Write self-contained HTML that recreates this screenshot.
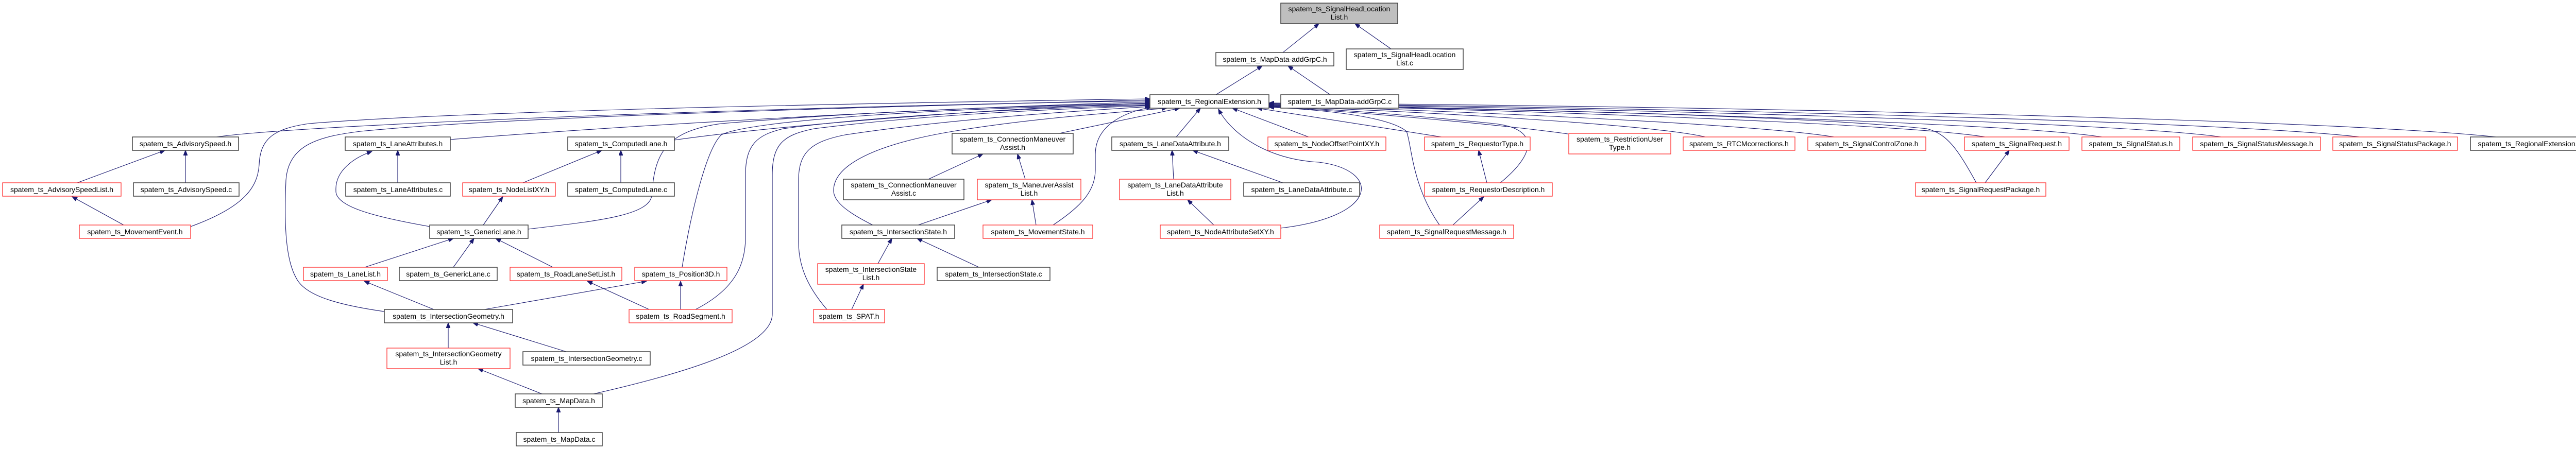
<!DOCTYPE html>
<html><head><meta charset="utf-8"><style>
html,body{margin:0;padding:0;background:#fff;}
svg{display:block;}
text{font-family:"Liberation Sans",sans-serif;font-size:14px;fill:#000;text-anchor:middle;}
.k{fill:#fff;stroke:#404040;stroke-width:1.5;}
.r{fill:#fff;stroke:#ff3030;stroke-width:1.3;}
.g{fill:#bfbfbf;stroke:#404040;stroke-width:1.5;}
path{fill:none;stroke:#191970;stroke-width:1.1;}
</style></head><body>
<svg width="5029" height="872" viewBox="0 0 5029 872" xmlns="http://www.w3.org/2000/svg">
<defs><marker id="a" markerWidth="11" markerHeight="8" refX="10" refY="4" orient="auto" markerUnits="userSpaceOnUse"><path d="M0,0 L10,4 L0,8 Z" style="fill:#191970;stroke:#191970;stroke-width:1"/></marker></defs>
<g marker-end="url(#a)">
<path d="M2490,102 L2560,46"/>
<path d="M2700,95 L2630,46"/>
<path d="M2360,184 L2450,128"/>
<path d="M2582,184 L2500,128"/>
<path d="M150,355 L320,292"/>
<path d="M360,355 L360,292"/>
<path d="M240,437 L140,382"/>
<path d="M772,355 L772,292"/>
<path d="M834,440 C720,420 650,400 652,370 C650,330 690,305 722,294"/>
<path d="M1015,355 L1168,292"/>
<path d="M1205,355 L1205,292"/>
<path d="M938,437 L976,382"/>
<path d="M708,519 L880,463"/>
<path d="M880,519 L920,463"/>
<path d="M1073,519 L962,463"/>
<path d="M842,601 L707,546"/>
<path d="M940,601 L1255,546"/>
<path d="M1260,601 L1140,546"/>
<path d="M1321,601 L1321,546"/>
<path d="M870,676 L870,627"/>
<path d="M1099,683 L918,627"/>
<path d="M1052,765 L928,716"/>
<path d="M1084,840 L1084,791"/>
<path d="M1802,348 L1908,299"/>
<path d="M1990,348 L1975,299"/>
<path d="M1782,437 L1925,388"/>
<path d="M2011,437 L2003,388"/>
<path d="M1704,512 L1731,463"/>
<path d="M1900,519 L1780,463"/>
<path d="M1653,601 L1676,552"/>
<path d="M2278,348 L2275,292"/>
<path d="M2490,355 L2315,292"/>
<path d="M2356,437 L2305,388"/>
<path d="M2886,355 L2870,292"/>
<path d="M2820,437 L2880,382"/>
<path d="M3853,355 L3900,292"/>
<path d="M2056,259 L2290,210"/>
<path d="M2283,266 L2330,210"/>
<path d="M2540,266 L2392,210"/>
<path d="M2798,266 L2440,210"/>
<path d="M3043,260 C2900,240 2600,215 2463,207"/>
<path d="M3310,266 C3200,240 2700,214 2463,206"/>
<path d="M3560,266 C3400,240 2800,214 2463,205"/>
<path d="M3853,266 C3700,240 2900,212 2463,204"/>
<path d="M4080,266 C3900,238 3000,212 2463,203"/>
<path d="M4311,266 C4100,236 3100,210 2463,202"/>
<path d="M4580,266 C4300,234 3200,209 2463,201"/>
<path d="M4845,266 C4500,230 3300,206 2463,200"/>
<path d="M420,266 C600,240 1600,205 2232,196"/>
<path d="M874,271 C1200,245 1800,210 2232,198"/>
<path d="M1309,272 C1500,245 1900,212 2232,200"/>
<path d="M370,440 C480,400 500,360 503,320 C505,270 530,250 600,240 C900,215 1700,200 2232,192"/>
<path d="M746,605 C640,590 590,570 575,540 C552,500 552,420 555,350 C560,280 620,265 700,255 C1000,225 1800,205 2232,194"/>
<path d="M1025,445 C1150,430 1260,420 1265,380 C1270,300 1290,255 1400,240 C1700,215 2000,205 2232,201"/>
<path d="M1324,519 C1340,420 1370,290 1400,262 C1450,235 1800,210 2232,203"/>
<path d="M1350,601 C1430,560 1447,510 1447,460 L1447,340 C1447,280 1470,262 1520,250 C1700,225 2000,210 2232,204"/>
<path d="M1152,765 C1350,720 1499,670 1499,610 L1499,340 C1499,280 1520,262 1580,250 C1800,222 2050,212 2232,205"/>
<path d="M1605,601 C1570,560 1550,520 1550,470 L1550,350 C1550,295 1575,275 1640,262 C1850,230 2100,215 2232,207"/>
<path d="M1694,437 C1640,410 1618,390 1618,370 C1618,320 1700,280 1850,255 C2000,230 2150,220 2265,210"/>
<path d="M2044,437 C2100,400 2126,370 2126,330 L2126,300 C2126,250 2170,220 2235,208"/>
<path d="M2486,443 C2680,420 2680,330 2560,315 C2460,310 2390,260 2365,212"/>
<path d="M2912,355 C2980,300 2990,250 2900,240 C2750,225 2600,212 2463,207"/>
<path d="M2794,437 C2740,360 2740,280 2730,255 C2700,230 2600,215 2463,208"/>
<path d="M3836,355 C3800,290 3780,260 3740,250 C3500,225 2900,210 2463,206"/>
</g>
<rect class="g" x="2486" y="6" width="227" height="40"/><text x="2599.5" y="22">spatem_ts_SignalHeadLocation</text><text x="2599.5" y="38">List.h</text>
<rect class="k" x="2360" y="102" width="229" height="26"/><text x="2474.5" y="120">spatem_ts_MapData-addGrpC.h</text>
<rect class="k" x="2613" y="95" width="227" height="40"/><text x="2726.5" y="111">spatem_ts_SignalHeadLocation</text><text x="2726.5" y="127">List.c</text>
<rect class="k" x="2232" y="184" width="231" height="26"/><text x="2347.5" y="202">spatem_ts_RegionalExtension.h</text>
<rect class="k" x="2486" y="184" width="229" height="26"/><text x="2600.5" y="202">spatem_ts_MapData-addGrpC.c</text>
<rect class="k" x="257" y="266" width="206" height="26"/><text x="360" y="284">spatem_ts_AdvisorySpeed.h</text>
<rect class="k" x="670" y="266" width="204" height="26"/><text x="772" y="284">spatem_ts_LaneAttributes.h</text>
<rect class="k" x="1102" y="266" width="207" height="26"/><text x="1205.5" y="284">spatem_ts_ComputedLane.h</text>
<rect class="k" x="1848" y="259" width="235" height="40"/><text x="1965.5" y="275">spatem_ts_ConnectionManeuver</text><text x="1965.5" y="291">Assist.h</text>
<rect class="k" x="2158" y="266" width="227" height="26"/><text x="2271.5" y="284">spatem_ts_LaneDataAttribute.h</text>
<rect class="r" x="2461" y="266" width="229" height="26"/><text x="2575.5" y="284">spatem_ts_NodeOffsetPointXY.h</text>
<rect class="r" x="2765" y="266" width="205" height="26"/><text x="2867.5" y="284">spatem_ts_RequestorType.h</text>
<rect class="r" x="3045" y="259" width="198" height="40"/><text x="3144" y="275">spatem_ts_RestrictionUser</text><text x="3144" y="291">Type.h</text>
<rect class="r" x="3267" y="266" width="217" height="26"/><text x="3375.5" y="284">spatem_ts_RTCMcorrections.h</text>
<rect class="r" x="3509" y="266" width="229" height="26"/><text x="3623.5" y="284">spatem_ts_SignalControlZone.h</text>
<rect class="r" x="3813" y="266" width="203" height="26"/><text x="3914.5" y="284">spatem_ts_SignalRequest.h</text>
<rect class="r" x="4041" y="266" width="190" height="26"/><text x="4136" y="284">spatem_ts_SignalStatus.h</text>
<rect class="r" x="4256" y="266" width="248" height="26"/><text x="4380" y="284">spatem_ts_SignalStatusMessage.h</text>
<rect class="r" x="4528" y="266" width="242" height="26"/><text x="4649" y="284">spatem_ts_SignalStatusPackage.h</text>
<rect class="k" x="4795" y="266" width="229" height="26"/><text x="4909.5" y="284">spatem_ts_RegionalExtension.c</text>
<rect class="r" x="5" y="355" width="230" height="26"/><text x="120" y="373">spatem_ts_AdvisorySpeedList.h</text>
<rect class="k" x="259" y="355" width="205" height="26"/><text x="361.5" y="373">spatem_ts_AdvisorySpeed.c</text>
<rect class="k" x="671" y="355" width="203" height="26"/><text x="772.5" y="373">spatem_ts_LaneAttributes.c</text>
<rect class="r" x="898" y="355" width="180" height="26"/><text x="988" y="373">spatem_ts_NodeListXY.h</text>
<rect class="k" x="1102" y="355" width="207" height="26"/><text x="1205.5" y="373">spatem_ts_ComputedLane.c</text>
<rect class="k" x="1637" y="348" width="234" height="40"/><text x="1754" y="364">spatem_ts_ConnectionManeuver</text><text x="1754" y="380">Assist.c</text>
<rect class="r" x="1897" y="348" width="201" height="40"/><text x="1997.5" y="364">spatem_ts_ManeuverAssist</text><text x="1997.5" y="380">List.h</text>
<rect class="r" x="2173" y="348" width="216" height="40"/><text x="2281" y="364">spatem_ts_LaneDataAttribute</text><text x="2281" y="380">List.h</text>
<rect class="k" x="2414" y="355" width="225" height="26"/><text x="2526.5" y="373">spatem_ts_LaneDataAttribute.c</text>
<rect class="r" x="2765" y="355" width="248" height="26"/><text x="2889" y="373">spatem_ts_RequestorDescription.h</text>
<rect class="r" x="3718" y="355" width="253" height="26"/><text x="3844.5" y="373">spatem_ts_SignalRequestPackage.h</text>
<rect class="r" x="154" y="437" width="216" height="26"/><text x="262" y="455">spatem_ts_MovementEvent.h</text>
<rect class="k" x="834" y="437" width="191" height="26"/><text x="929.5" y="455">spatem_ts_GenericLane.h</text>
<rect class="k" x="1634" y="437" width="219" height="26"/><text x="1743.5" y="455">spatem_ts_IntersectionState.h</text>
<rect class="r" x="1908" y="437" width="213" height="26"/><text x="2014.5" y="455">spatem_ts_MovementState.h</text>
<rect class="r" x="2252" y="437" width="234" height="26"/><text x="2369" y="455">spatem_ts_NodeAttributeSetXY.h</text>
<rect class="r" x="2678" y="437" width="260" height="26"/><text x="2808" y="455">spatem_ts_SignalRequestMessage.h</text>
<rect class="r" x="589" y="519" width="163" height="26"/><text x="670.5" y="537">spatem_ts_LaneList.h</text>
<rect class="k" x="775" y="519" width="190" height="26"/><text x="870" y="537">spatem_ts_GenericLane.c</text>
<rect class="r" x="990" y="519" width="217" height="26"/><text x="1098.5" y="537">spatem_ts_RoadLaneSetList.h</text>
<rect class="r" x="1232" y="519" width="179" height="26"/><text x="1321.5" y="537">spatem_ts_Position3D.h</text>
<rect class="r" x="1587" y="512" width="207" height="40"/><text x="1690.5" y="528">spatem_ts_IntersectionState</text><text x="1690.5" y="544">List.h</text>
<rect class="k" x="1819" y="519" width="219" height="26"/><text x="1928.5" y="537">spatem_ts_IntersectionState.c</text>
<rect class="k" x="746" y="601" width="249" height="26"/><text x="870.5" y="619">spatem_ts_IntersectionGeometry.h</text>
<rect class="r" x="1221" y="601" width="200" height="26"/><text x="1321" y="619">spatem_ts_RoadSegment.h</text>
<rect class="r" x="1579" y="601" width="138" height="26"/><text x="1648" y="619">spatem_ts_SPAT.h</text>
<rect class="r" x="751" y="676" width="239" height="40"/><text x="870.5" y="692">spatem_ts_IntersectionGeometry</text><text x="870.5" y="708">List.h</text>
<rect class="k" x="1015" y="683" width="247" height="26"/><text x="1138.5" y="701">spatem_ts_IntersectionGeometry.c</text>
<rect class="k" x="1000" y="765" width="169" height="26"/><text x="1084.5" y="783">spatem_ts_MapData.h</text>
<rect class="k" x="1002" y="840" width="167" height="26"/><text x="1085.5" y="858">spatem_ts_MapData.c</text>
</svg>
</body></html>
